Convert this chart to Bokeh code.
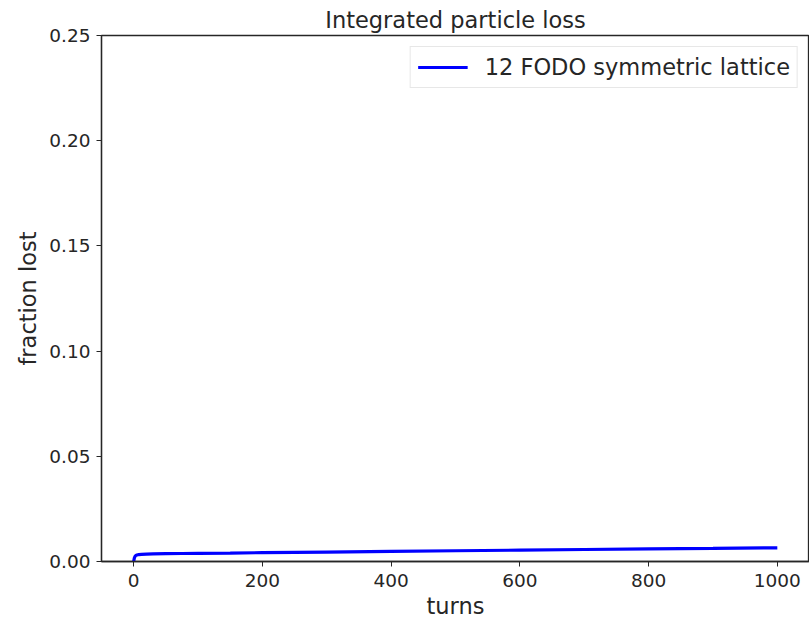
from bokeh.plotting import figure
from bokeh.models import Range1d, FixedTicker, NumeralTickFormatter, Legend, LegendItem
from bokeh.embed import file_html
from bokeh.resources import INLINE

# Cumulative fraction of particles lost versus turn number
turns = [0, 1, 2, 3, 5, 8, 12, 20, 30, 50, 75, 100, 150, 200, 300,
         400, 500, 600, 700, 800, 900, 1000]
fraction_lost = [0.0, 0.0016, 0.0024, 0.0028, 0.0031, 0.0033, 0.0034,
                 0.0035, 0.0036, 0.0037, 0.0038, 0.0039, 0.0040, 0.0042,
                 0.0045, 0.0048, 0.0051, 0.0054, 0.0057, 0.0060, 0.0062,
                 0.0065]
series_label = "12 FODO symmetric lattice"
x_ticks = [0, 200, 400, 600, 800, 1000]
y_ticks = [0.0, 0.05, 0.10, 0.15, 0.20, 0.25]

FONT = "DejaVu Sans"
INK = "#262626"

p = figure(width=809, height=621, output_backend="svg", toolbar_location=None,
           x_range=Range1d(-50, 1050), y_range=Range1d(0, 0.25),
           min_border_left=101, min_border_right=0,
           min_border_top=35, min_border_bottom=59)
p.title.text = "Integrated particle loss"
p.title.align = "center"
p.title.text_font = FONT
p.title.text_font_size = "22.5px"
p.title.text_font_style = "normal"
p.title.text_color = INK
p.title.standoff = 6

p.xgrid.visible = False
p.ygrid.visible = False
p.outline_line_color = INK
p.outline_line_width = 1.3
p.background_fill_color = "white"
p.border_fill_color = "white"

for ax in (p.xaxis[0], p.yaxis[0]):
    ax.axis_line_color = INK
    ax.axis_line_width = 1.3
    ax.major_tick_line_color = INK
    ax.major_tick_out = 5
    ax.major_tick_in = 0
    ax.minor_tick_line_color = None
    ax.major_label_text_font = FONT
    ax.major_label_text_font_size = "18.5px"
    ax.major_label_text_color = INK
    ax.axis_label_text_font = FONT
    ax.axis_label_text_font_size = "22.5px"
    ax.axis_label_text_font_style = "normal"
    ax.axis_label_text_color = INK

p.xaxis.ticker = FixedTicker(ticks=x_ticks)
p.yaxis.ticker = FixedTicker(ticks=y_ticks)
p.yaxis.formatter = NumeralTickFormatter(format="0.00")
p.xaxis.axis_label = "turns"
p.yaxis.axis_label = "fraction lost"
p.xaxis.major_label_standoff = 7
p.yaxis.major_label_standoff = 6
p.xaxis.axis_label_standoff = 3
p.yaxis.axis_label_standoff = 5

r = p.line(turns, fraction_lost, line_color="#0000ff", line_width=3.2)

legend = Legend(items=[LegendItem(label=series_label, renderers=[r])],
                location="top_right")
legend.label_text_font = FONT
legend.label_text_font_size = "22.5px"
legend.label_text_color = INK
legend.border_line_color = "#d0d0d0"
legend.border_line_width = 1
legend.background_fill_alpha = 0.9
legend.margin = 11
legend.padding = 7
legend.glyph_width = 50
legend.label_standoff = 17
legend.spacing = 0
p.add_layout(legend)

open("out.html", "w").write(file_html(p, INLINE))
